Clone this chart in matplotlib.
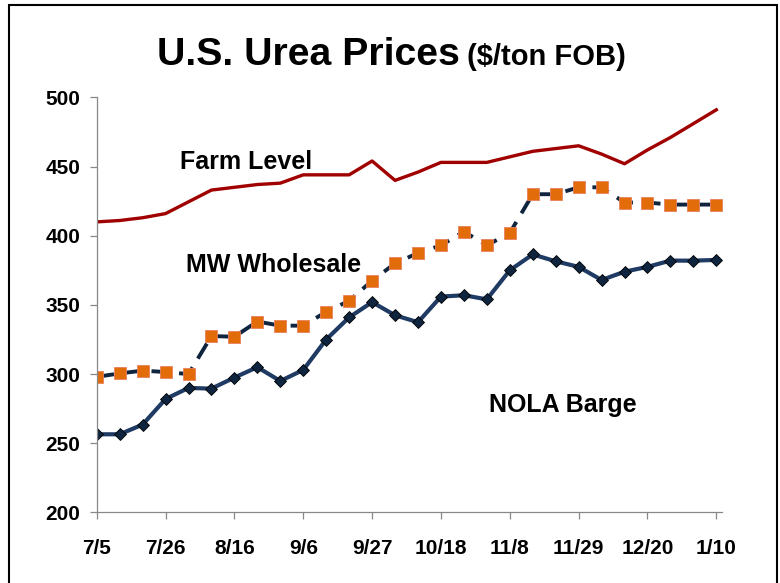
import matplotlib.pyplot as plt
import matplotlib.patches as mpatches
import numpy as np

# weekly prices, 7/5 to 1/10
weeks = ['7/5', '7/12', '7/19', '7/26', '8/2', '8/9', '8/16', '8/23', '8/30',
         '9/6', '9/13', '9/20', '9/27', '10/4', '10/11', '10/18', '10/25', '11/1',
         '11/8', '11/15', '11/22', '11/29', '12/6', '12/13', '12/20', '12/27',
         '1/3', '1/10']

farm_level = [410, 411, 413, 416, 424.5, 433, 435, 437, 438, 444, 444, 444, 454, 440,
              446, 453, 453, 453, 457, 461, 463, 465, 459, 452, 462, 471, 481, 491]
mw_wholesale = [298, 300.5, 302.5, 301.5, 300, 327.5, 327, 338, 335, 335, 345, 353,
                367.5, 380, 387.5, 393, 403, 393, 402, 430, 430, 435, 435, 424, 424,
                422.5, 422.5, 422.5]
nola_barge = [256.5, 256.5, 263.5, 282, 290, 289.5, 297.5, 305, 295, 303, 325, 341,
              352, 342.5, 337.5, 356, 357, 354, 375, 386.5, 381.5, 377.5, 368, 374,
              377.5, 382, 382, 382.5]

plt.rcParams['font.family'] = ['Liberation Sans', 'DejaVu Sans']

fig = plt.figure(figsize=(7.8, 5.83), dpi=100)
ax = fig.add_axes([0.124, 0.121, 0.802, 0.712])

x = np.arange(len(weeks))

ax.plot(x, farm_level, color='#A00000', lw=2.4)
ax.plot(x, mw_wholesale, color='#0F243E', lw=2.8, linestyle=(0, (4.5, 2.6)),
        marker='s', markersize=8.5, markerfacecolor='#E36C0A',
        markeredgecolor='#E88060', markeredgewidth=0.6)
ax.plot(x, nola_barge, color='#1F3B63', lw=3.0,
        marker='D', markersize=6.5, markerfacecolor='#0F243E',
        markeredgecolor='#000000', markeredgewidth=0.6)

ax.set_xlim(0, 27.26)
ax.set_ylim(200, 500)
ax.set_yticks([200, 250, 300, 350, 400, 450, 500])
ax.set_xticks(x[::3])
ax.set_xticklabels(weeks[::3])

for s in ['top', 'right']:
    ax.spines[s].set_visible(False)
for s in ['left', 'bottom']:
    ax.spines[s].set_color('#888888')
    ax.spines[s].set_linewidth(0.9)
ax.tick_params(axis='both', colors='#888888', length=5, width=0.9,
               labelcolor='black', labelsize=15)
ax.tick_params(axis='y', pad=7)
ax.tick_params(axis='x', pad=14)
for lab in ax.get_xticklabels() + ax.get_yticklabels():
    lab.set_fontweight('bold')

# series labels
ax.text(6.5, 453, 'Farm Level', fontsize=18, fontweight='bold', ha='center', va='center')
ax.text(7.7, 379, 'MW Wholesale', fontsize=18, fontweight='bold', ha='center', va='center')
ax.text(20.3, 278, 'NOLA Barge', fontsize=18, fontweight='bold', ha='center', va='center')

fig.text(0.59, 0.888, 'U.S. Urea Prices', fontsize=28.3, fontweight='bold',
         ha='right', va='baseline')
fig.text(0.599, 0.888, '($/ton FOB)', fontsize=21, fontweight='bold',
         ha='left', va='baseline')

# frame around slide
fig.patches.append(mpatches.Rectangle((9 / 780, -0.05), 768 / 780, 1.05 - 5 / 583,
                                      transform=fig.transFigure, fill=False,
                                      edgecolor='black', lw=1.5))

fig.savefig('out.png', dpi=100)
